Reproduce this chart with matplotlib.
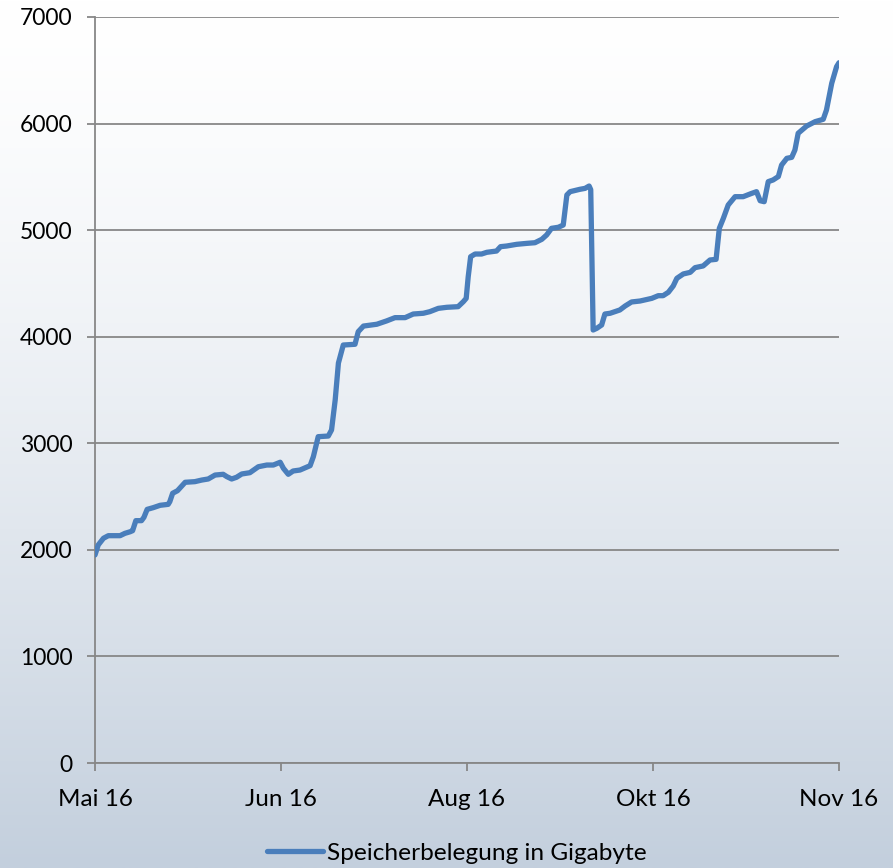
import matplotlib
matplotlib.use("Agg")
import matplotlib.pyplot as plt
import numpy as np

plt.rcParams['font.family'] = ['Lato', 'DejaVu Sans']

# days since 1 May 2016 and storage use in GB
days = [0, 0.8, 2.1, 3.3, 6.2, 7.4, 8.7, 9.3, 10.1, 11.5, 12.1, 12.9, 14.4, 16.1,
        18.1, 18.5, 19.2, 20.4, 22.3, 24.7, 26.4, 28.0, 29.7, 31.7, 32.6, 33.8,
        35.0, 36.3, 38.3, 40.4, 42.5, 44.1, 45.8, 46.6, 47.8, 49.0, 50.7, 53.2,
        54.0, 55.2, 57.7, 58.5, 59.4, 60.2, 61.4, 64.3, 65.1, 66.4, 69.7, 72.1,
        74.2, 76.7, 78.7, 81.2, 82.8, 84.9, 87.0, 89.8, 91.1, 91.8, 92.3, 92.9,
        94.0, 95.6, 96.9, 99.3, 100.3, 101.8, 104.3, 106.8, 108.8, 110.5, 111.7,
        112.9, 114.6, 115.8, 116.7, 117.5, 119.9, 121.2, 122.2, 122.6, 123.2,
        124.1, 125.3, 126.1, 127.4, 129.8, 131.1, 132.7, 134.8, 137.7, 139.3,
        140.5, 141.8, 143.0, 143.9, 145.5, 147.2, 148.4, 150.4, 152.1, 153.6,
        154.4, 155.4, 156.6, 158.3, 160.3, 162.4, 163.6, 164.5, 165.5, 166.5,
        167.7, 169.0, 169.8, 171.1, 172.3, 173.1, 173.9, 176.0, 178.1, 180.1,
        180.9, 182.2, 183.4, 184]
gigabyte = [1952, 2046, 2109, 2133, 2133, 2155, 2170, 2180, 2274, 2274, 2305, 2380,
            2396, 2418, 2427, 2452, 2531, 2555, 2634, 2640, 2655, 2665, 2702, 2709,
            2687, 2665, 2681, 2712, 2724, 2780, 2796, 2796, 2822, 2765, 2709, 2740,
            2749, 2790, 2874, 3062, 3068, 3125, 3406, 3753, 3922, 3929, 4047, 4100,
            4117, 4148, 4179, 4179, 4213, 4220, 4235, 4266, 4276, 4282, 4329, 4360,
            4563, 4751, 4776, 4776, 4792, 4804, 4845, 4851, 4867, 4876, 4882, 4914,
            4955, 5017, 5027, 5048, 5330, 5361, 5383, 5392, 5414, 5380, 4063, 4079,
            4110, 4213, 4220, 4251, 4288, 4326, 4335, 4360, 4385, 4385, 4417, 4476,
            4548, 4589, 4604, 4648, 4664, 4720, 4726, 5017, 5111, 5236, 5314, 5314,
            5345, 5361, 5276, 5267, 5455, 5471, 5503, 5611, 5674, 5683, 5752, 5909,
            5977, 6018, 6040, 6127, 6378, 6534, 6571]

tick_days = [0, 46, 92, 138, 184]
tick_labels = ["Mai 16", "Jun 16", "Aug 16", "Okt 16", "Nov 16"]
series_name = "Speicherbelegung in Gigabyte"

fig = plt.figure(figsize=(8.93, 8.68), dpi=100)

# background gradient, white on top to grey-blue at the bottom
bg = fig.add_axes([0, 0, 1, 1], zorder=-10)
t = np.linspace(0, 1, 400) ** 1.4
top = np.array([1.0, 1.0, 1.0])
bottom = np.array([195, 207, 221]) / 255
grad = top[None, :] * (1 - t[:, None]) + bottom[None, :] * t[:, None]
bg.imshow(grad[:, None, :], aspect="auto", extent=[0, 1, 0, 1])
bg.axis("off")

ax = fig.add_axes([95 / 893, 1 - 763 / 868, 744 / 893, 746 / 868])
ax.patch.set_alpha(0)
ax.plot(days, gigabyte, color="#4A7EBB", lw=3.8, solid_joinstyle="round",
        solid_capstyle="round", label=series_name, zorder=3)

ax.set_xlim(0, 184)
ax.set_ylim(0, 7000)
ax.set_yticks(range(0, 7001, 1000))
ax.set_xticks(tick_days)
ax.set_xticklabels(tick_labels, fontsize=17.5)
ax.grid(axis="y", color="#878787", lw=1.3)
ax.set_axisbelow(True)
for s in ["top", "right"]:
    ax.spines[s].set_visible(False)
for s in ["left", "bottom"]:
    ax.spines[s].set_color("#878787")
    ax.spines[s].set_linewidth(1.3)
ax.tick_params(axis="both", colors="#878787", width=1.3, length=6,
               labelcolor="black")
ax.tick_params(axis="y", pad=10, labelsize=16.5)
ax.tick_params(axis="x", pad=13)

fig.legend(loc="center", bbox_to_anchor=(457 / 893, 1 - 853 / 868),
           frameon=False, fontsize=17.6, handlelength=2.3, handletextpad=0.15)

fig.savefig("out.png", dpi=100)
